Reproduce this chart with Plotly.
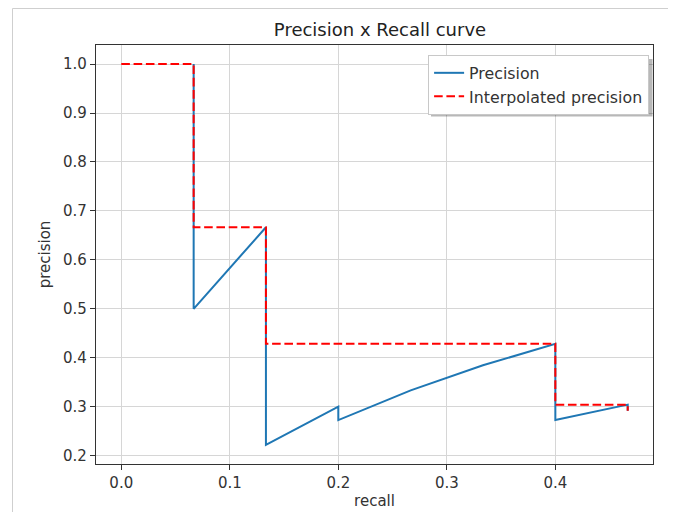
import plotly.graph_objects as go

recall = [0.0667, 0.0667, 0.1333, 0.1333, 0.1333, 0.1333, 0.1333, 0.1333, 0.1333,
          0.2, 0.2, 0.2667, 0.3333, 0.4, 0.4, 0.4, 0.4, 0.4, 0.4, 0.4, 0.4, 0.4,
          0.4667, 0.4667]
precision = [1.0, 0.5, 0.6667, 0.5, 0.4, 0.3333, 0.2857, 0.25, 0.2222,
             0.3, 0.2727, 0.3333, 0.3846, 0.4286, 0.4, 0.375, 0.3529, 0.3333,
             0.3158, 0.3, 0.2857, 0.2727, 0.3043, 0.2917]

interp_recall = [0.0] + recall
interp_precision = [1.0, 1.0, 0.6667, 0.6667, 0.4286, 0.4286, 0.4286, 0.4286, 0.4286, 0.4286,
                    0.4286, 0.4286, 0.4286, 0.4286, 0.4286, 0.3043, 0.3043, 0.3043, 0.3043,
                    0.3043, 0.3043, 0.3043, 0.3043, 0.3043, 0.2917]

x_ticks = [0.0, 0.1, 0.2, 0.3, 0.4]
y_ticks = [0.2, 0.3, 0.4, 0.5, 0.6, 0.7, 0.8, 0.9, 1.0]

fig = go.Figure()
fig.add_trace(go.Scatter(x=recall, y=precision, mode="lines", name="Precision",
                         line=dict(color="#1f77b4", width=2)))
fig.add_trace(go.Scatter(x=interp_recall, y=interp_precision, mode="lines",
                         name="Interpolated precision",
                         line=dict(color="#ff0000", width=2, dash="8.6px,3.7px")))

# page body has an 8px margin; figure is sized/positioned to compensate
W, H = 668, 504
L, T = 88, 37
pw, ph = 557, 419
R, B = W - L - pw, H - T - ph

axis_common = dict(showline=True, linecolor="#333333", linewidth=1.2, mirror=True,
                   ticks="outside", ticklen=5, tickwidth=1.2, tickcolor="#333333",
                   showgrid=True, gridcolor="#d6d6d6", gridwidth=1, zeroline=False,
                   tickfont=dict(size=15, color="#333333"))

fig.update_layout(
    width=W, height=H,
    margin=dict(l=L, r=R, t=T, b=B, autoexpand=False),
    paper_bgcolor="white", plot_bgcolor="white",
    font=dict(family="DejaVu Sans", color="#333333"),
    title=dict(text="Precision x Recall curve", x=372 / W, xanchor="center",
               y=1 - 22 / H, yanchor="middle", font=dict(size=18, color="#222222")),
    xaxis=dict(range=[-0.0233, 0.49], tickvals=x_ticks, tickformat=".1f",
               title=dict(text="recall", font=dict(size=15, color="#333333"), standoff=4),
               **axis_common),
    yaxis=dict(range=[0.183, 1.039], tickvals=y_ticks, tickformat=".1f",
               title=dict(text="precision", font=dict(size=15, color="#333333"), standoff=8),
               **axis_common),
    legend=dict(x=0.993, y=0.976, xanchor="right", yanchor="top",
                bgcolor="white", bordercolor="#c8c8c8", borderwidth=1,
                font=dict(size=15.8, color="#333333"), tracegroupgap=0,
                itemwidth=30),
    showlegend=True,
)


def px(sx):
    return (sx - 8 - L) / pw


def py(sy):
    return (T + ph - (sy - 8)) / ph


# legend drop shadow (legend box is drawn on top of it)
fig.add_shape(type="rect", xref="paper", yref="paper",
              x0=px(431), x1=px(652.5), y0=py(116.5), y1=py(59),
              line=dict(width=0), fillcolor="rgba(0,0,0,0.28)", layer="above")

# screenshot frame lines
fx = px(12.5)
fy = py(8.5)
fig.add_shape(type="line", xref="paper", yref="paper", x0=fx, x1=px(676), y0=fy, y1=fy,
              line=dict(color="#cfcfcf", width=1))
fig.add_shape(type="line", xref="paper", yref="paper", x0=fx, x1=fx, y0=fy, y1=py(512),
              line=dict(color="#cfcfcf", width=1))

fig.write_html("out.html")
